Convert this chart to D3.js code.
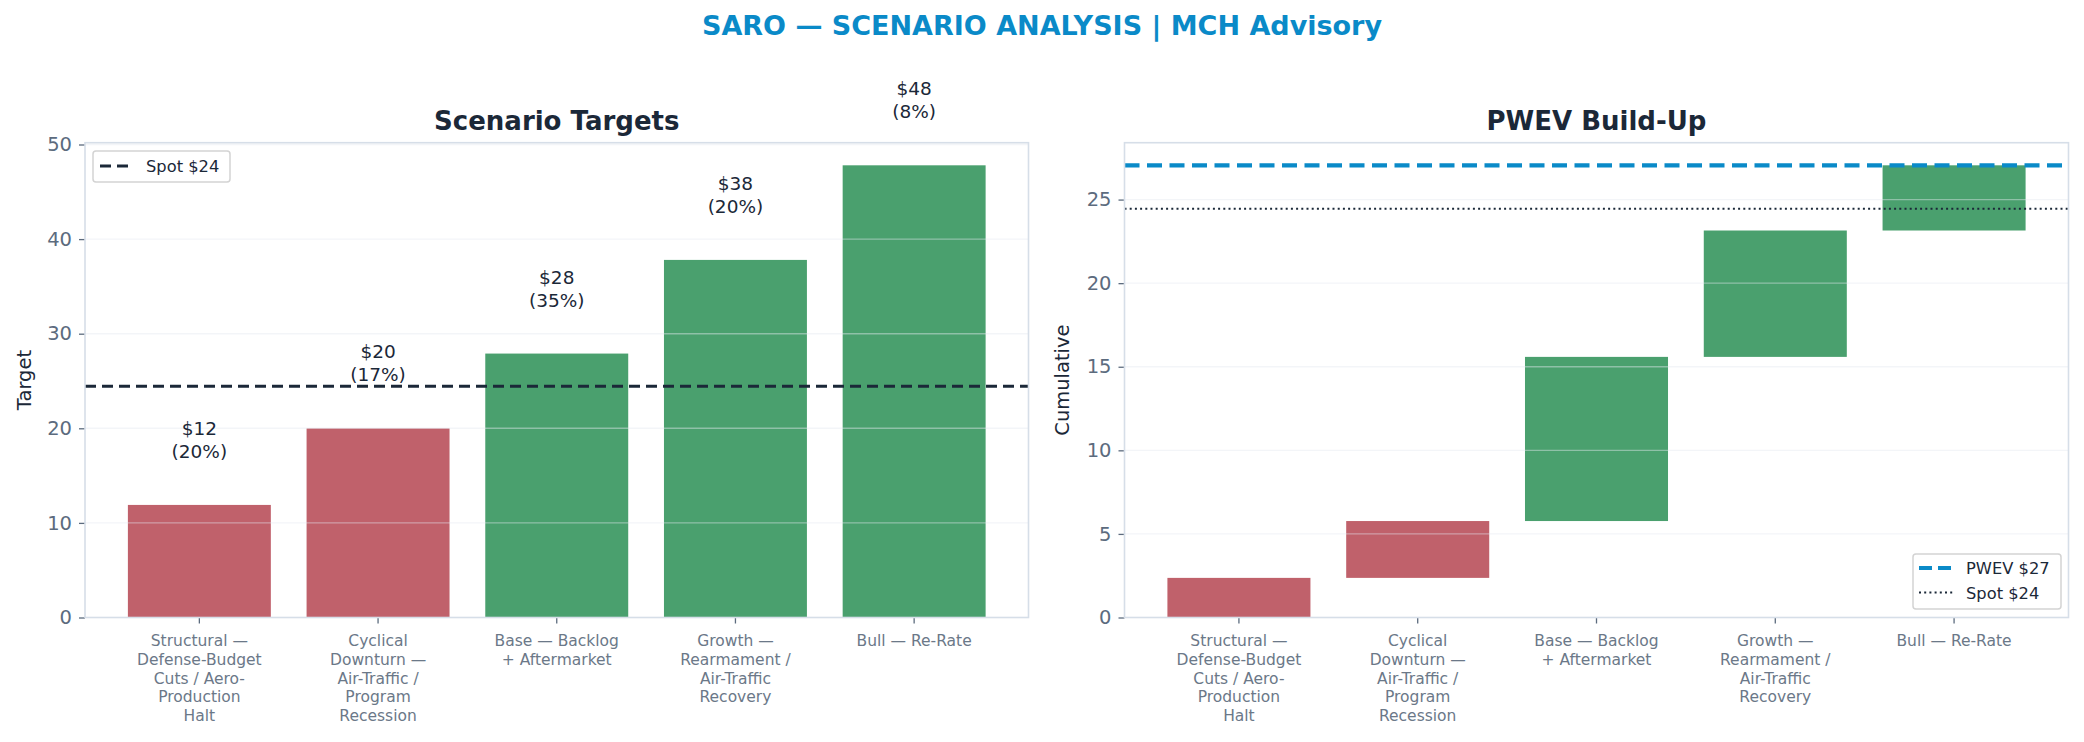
<!DOCTYPE html>
<html>
<head>
<meta charset="utf-8">
<script src="https://cdn.jsdelivr.net/npm/d3@7"></script>
<style>
  body { margin: 0; background: #fff; }
  svg { display: block; font-family: "DejaVu Sans", sans-serif; }
</style>
</head>
<body>
<div id="chart"></div>
<script>
// scenario data
const scenarios = [
  'Structural — Defense-Budget Cuts / Aero-Production Halt',
  'Cyclical Downturn — Air-Traffic / Program Recession',
  'Base — Backlog + Aftermarket',
  'Growth — Rearmament / Air-Traffic Recovery',
  'Bull — Re-Rate'
]
const tickLines = [
  ['Structural —', 'Defense-Budget', 'Cuts / Aero-', 'Production', 'Halt'],
  ['Cyclical', 'Downturn —', 'Air-Traffic /', 'Program', 'Recession'],
  ['Base — Backlog', '+ Aftermarket'],
  ['Growth —', 'Rearmament /', 'Air-Traffic', 'Recovery'],
  ['Bull — Re-Rate']
]
const targets = [11.9, 20.0, 27.9, 37.8, 47.8]
const targetLabels = ['$12', '$20', '$28', '$38', '$48']
const probLabels = ['(20%)', '(17%)', '(35%)', '(20%)', '(8%)']
const contributions = [2.37, 3.40, 9.82, 7.56, 3.90]
const spot = 24.45
const pwev = 27.05
const downside = [true, true, false, false, false]

const W = 2084, H = 742
const RED = '#c0616b', GREEN = '#4aa06e', BLUE = '#0a8ac8'
const INK = '#1b2838', TICK = '#5c6b7e', FRAME = '#d6dee8'

const svg = d3.select('#chart').append('svg')
  .attr('width', W).attr('height', H)

svg.append('text')
  .attr('x', 1042).attr('y', 35)
  .attr('text-anchor', 'middle')
  .attr('font-size', 27).attr('font-weight', 'bold')
  .attr('fill', BLUE)
  .text('SARO — SCENARIO ANALYSIS | MCH Advisory')

const plotTop = 142.7, plotBottom = 617.5

function panel (x0, x1, ymax, ticks, title, ylabel, ylabelX) {
  const g = svg.append('g')
  const x = d3.scaleBand().domain(scenarios).range([x0, x1])
    .paddingInner(0.2).paddingOuter(0.24)
  const y = d3.scaleLinear().domain([0, ymax]).range([plotBottom, plotTop])

  g.append('text')
    .attr('x', (x0 + x1) / 2).attr('y', 130)
    .attr('text-anchor', 'middle')
    .attr('font-size', 26).attr('font-weight', 'bold')
    .attr('fill', INK)
    .text(title)

  g.append('text')
    .attr('transform', `translate(${ylabelX},${(plotTop + plotBottom) / 2}) rotate(-90)`)
    .attr('text-anchor', 'middle').attr('dy', '0.35em')
    .attr('font-size', 19.5).attr('fill', INK)
    .text(ylabel)

  // y axis
  const ya = g.append('g').attr('transform', `translate(${x0},0)`)
    .call(d3.axisLeft(y).tickValues(ticks).tickSize(6).tickPadding(7))
  ya.select('.domain').remove()
  ya.selectAll('line').attr('stroke', TICK).attr('stroke-width', 1.3)
  ya.selectAll('text').attr('font-size', 19.5).attr('fill', TICK)
    .attr('font-family', '"DejaVu Sans", sans-serif')

  // x axis
  const xa = g.append('g').attr('transform', `translate(0,${plotBottom})`)
    .call(d3.axisBottom(x).tickSize(6).tickFormat(''))
  xa.select('.domain').remove()
  xa.selectAll('line').attr('stroke', TICK).attr('stroke-width', 1.3)
  scenarios.forEach((s, i) => {
    const t = g.append('text')
      .attr('x', x(s) + x.bandwidth() / 2).attr('y', plotBottom + 28.5)
      .attr('text-anchor', 'middle')
      .attr('font-size', 15.5).attr('fill', '#6b7888')
    tickLines[i].forEach((line, j) => {
      t.append('tspan').attr('x', x(s) + x.bandwidth() / 2)
        .attr('dy', j === 0 ? 0 : 18.8).text(line)
    })
  })

  return { g, x, y }
}

function grid (p, ticks, x0, x1) {
  p.g.selectAll('.grid').data(ticks.filter(t => t > 0)).enter()
    .append('line')
    .attr('x1', x0).attr('x2', x1)
    .attr('y1', d => p.y(d)).attr('y2', d => p.y(d))
    .attr('stroke', '#e4e9f0').attr('stroke-opacity', 0.45).attr('stroke-width', 1.4)
}

function frame (p, x0, x1) {
  p.g.append('rect')
    .attr('x', x0).attr('y', plotTop)
    .attr('width', x1 - x0).attr('height', plotBottom - plotTop)
    .attr('fill', 'none').attr('stroke', FRAME).attr('stroke-width', 1.6)
}

// ---- left: scenario targets
const L0 = 85, L1 = 1028.5
const leftTicks = [0, 10, 20, 30, 40, 50]
const left = panel(L0, L1, d3.max(targets) * 1.05, leftTicks,
  'Scenario Targets', 'Target', 24)

left.g.selectAll('.bar').data(scenarios).enter().append('rect')
  .attr('x', d => left.x(d))
  .attr('width', left.x.bandwidth())
  .attr('y', (d, i) => left.y(targets[i]))
  .attr('height', (d, i) => left.y(0) - left.y(targets[i]))
  .attr('fill', (d, i) => downside[i] ? RED : GREEN)

grid(left, leftTicks, L0, L1)

left.g.append('line')
  .attr('x1', L0).attr('x2', L1)
  .attr('y1', left.y(spot)).attr('y2', left.y(spot))
  .attr('stroke', INK).attr('stroke-width', 3).attr('stroke-dasharray', '11,6')

scenarios.forEach((s, i) => {
  const cx = left.x(s) + left.x.bandwidth() / 2
  const yb = left.y(targets[i])
  left.g.append('text').attr('x', cx).attr('y', yb - 70)
    .attr('text-anchor', 'middle').attr('font-size', 18.5).attr('fill', INK)
    .text(targetLabels[i])
  left.g.append('text').attr('x', cx).attr('y', yb - 47)
    .attr('text-anchor', 'middle').attr('font-size', 18.5).attr('fill', INK)
    .text(probLabels[i])
})

frame(left, L0, L1)

// legend left
const lg = left.g.append('g')
lg.append('rect').attr('x', 93).attr('y', 151).attr('width', 137).attr('height', 31)
  .attr('rx', 3).attr('fill', '#fff').attr('stroke', '#d3d3d3').attr('stroke-width', 1.5)
lg.append('line').attr('x1', 100).attr('x2', 130).attr('y1', 166).attr('y2', 166)
  .attr('stroke', INK).attr('stroke-width', 3).attr('stroke-dasharray', '11,6')
lg.append('text').attr('x', 146).attr('y', 172)
  .attr('font-size', 16.3).attr('fill', INK).text('Spot $24')

// ---- right: PWEV build-up
const R0 = 1124.5, R1 = 2068.5
const rightTicks = [0, 5, 10, 15, 20, 25]
const cum = Array.from(d3.cumsum(contributions))
const right = panel(R0, R1, pwev * 1.05, rightTicks,
  'PWEV Build-Up', 'Cumulative', 1062.5)

right.g.selectAll('.bar').data(scenarios).enter().append('rect')
  .attr('x', d => right.x(d))
  .attr('width', right.x.bandwidth())
  .attr('y', (d, i) => right.y(cum[i]))
  .attr('height', (d, i) => right.y(cum[i] - contributions[i]) - right.y(cum[i]))
  .attr('fill', (d, i) => downside[i] ? RED : GREEN)

grid(right, rightTicks, R0, R1)

right.g.append('line')
  .attr('x1', R0).attr('x2', R1)
  .attr('y1', right.y(pwev)).attr('y2', right.y(pwev))
  .attr('stroke', BLUE).attr('stroke-width', 4.2).attr('stroke-dasharray', '15,7.5')
right.g.append('line')
  .attr('x1', R0).attr('x2', R1)
  .attr('y1', right.y(spot)).attr('y2', right.y(spot))
  .attr('stroke', INK).attr('stroke-width', 2).attr('stroke-dasharray', '2,3.2')

frame(right, R0, R1)

const rg = right.g.append('g')
rg.append('rect').attr('x', 1913).attr('y', 554).attr('width', 148).attr('height', 55)
  .attr('rx', 3).attr('fill', '#fff').attr('stroke', '#d3d3d3').attr('stroke-width', 1.5)
rg.append('line').attr('x1', 1919).attr('x2', 1953).attr('y1', 568).attr('y2', 568)
  .attr('stroke', BLUE).attr('stroke-width', 4.2).attr('stroke-dasharray', '13,6')
rg.append('text').attr('x', 1966).attr('y', 574)
  .attr('font-size', 16.3).attr('fill', INK).text('PWEV $27')
rg.append('line').attr('x1', 1919).attr('x2', 1953).attr('y1', 592.5).attr('y2', 592.5)
  .attr('stroke', INK).attr('stroke-width', 2).attr('stroke-dasharray', '2,3.2')
rg.append('text').attr('x', 1966).attr('y', 598.5)
  .attr('font-size', 16.3).attr('fill', INK).text('Spot $24')
</script>
</body>
</html>
